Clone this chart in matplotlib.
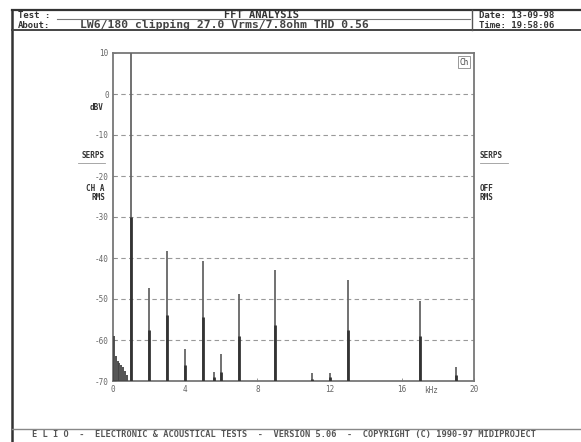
import matplotlib
matplotlib.use("Agg")
from matplotlib import pyplot as plt
from matplotlib.lines import Line2D
import numpy as np

# harmonic lines: frequency (kHz), peak trace (thin) and lower trace (dark), dB
harm_khz = [1, 2, 3, 4, 5, 5.6, 6, 7, 9, 11, 12, 13, 17, 19]
harm_peak = [15, -47.3, -38.3, -62.2, -40.7, -67.8, -63.4, -48.8, -42.9, -68.0, -68.0, -45.4, -50.5, -66.6]
harm_low = [-30, -57.6, -53.9, -66.0, -54.4, -69.0, -67.8, -59.0, -56.3, -69.5, -69.0, -57.6, -59.0, -68.5]

# low frequency noise near DC
noise_khz = [0.05, 0.15, 0.25, 0.35, 0.45, 0.55, 0.65, 0.75]
noise_db = [-59.0, -64.0, -65.0, -65.5, -66.0, -66.5, -67.5, -68.5]

yticks = [10, 0, -10, -20, -30, -40, -50, -60, -70]
xticks = [0, 4, 8, 12, 16, 20]

W, H = 581, 442
MONO = "DejaVu Sans Mono"


def fx(x):
    return x / W


def fy(y):
    return 1 - y / H


fig = plt.figure(figsize=(W / 100, H / 100), dpi=100)
fig.patch.set_facecolor("white")


def fline(x0, y0, x1, y1, lw=1.0, c="#555555"):
    fig.add_artist(Line2D([fx(x0), fx(x1)], [fy(y0), fy(y1)], lw=lw, color=c,
                          transform=fig.transFigure))


def ftext(x, y, s, size=7.5, ha="left", c="#333333", weight="bold"):
    fig.text(fx(x), fy(y), s, fontsize=size, ha=ha, va="center", color=c,
             family=MONO, weight=weight)


# outer frame and header boxes
fline(12, 10, 581, 10, lw=1.6, c="#333333")
fline(12, 10, 12, 442, lw=1.8, c="#333333")
fline(12, 30, 581, 30, lw=1.4, c="#444444")
fline(57, 19, 470, 19, lw=0.8, c="#777777")
fline(472, 10, 472, 30, lw=1.0, c="#555555")
fline(12, 429, 581, 429, lw=1.0, c="#888888")

ftext(18, 15, "Test :", size=6.5)
ftext(18, 25, "About:", size=6.5)
ftext(262, 14.5, "FFT ANALYSIS", size=7.5, ha="center")
ftext(80, 25, "LW6/180 clipping 27.0 Vrms/7.8ohm THD 0.56", size=8.2, c="#444444")
ftext(479, 15, "Date: 13-09-98", size=6.5)
ftext(479, 25, "Time: 19:58:06", size=6.5)
ftext(32, 435, "E L I O  -  ELECTRONIC & ACOUSTICAL TESTS  -  VERSION 5.06  -  "
      "COPYRIGHT (C) 1990-97 MIDIPROJECT", size=6.2, c="#555555")

# side labels
ftext(104, 108, "dBV", size=5.5, ha="right")
ftext(105, 155, "SERPS", size=5.5, ha="right")
fline(78, 163, 105, 163, lw=0.6, c="#999999")
ftext(105, 188, "CH A", size=5.5, ha="right")
ftext(105, 198, "RMS", size=5.5, ha="right")
ftext(480, 155, "SERPS", size=5.5)
fline(480, 163, 508, 163, lw=0.6, c="#999999")
ftext(480, 188, "OFF", size=5.5)
ftext(480, 198, "RMS", size=5.5)

# plot area
ax = fig.add_axes([fx(113), fy(381), fx(474) - fx(113), fy(53) - fy(381)])
ax.set_xlim(0, 20)
ax.set_ylim(-70, 10)
for sp in ax.spines.values():
    sp.set_color("#777777")
    sp.set_linewidth(1.3)

for v in yticks[1:-1]:
    ax.axhline(v, color="#999999", lw=0.8, ls=(0, (4, 3)), zorder=1)

ax.vlines(noise_khz, -70, noise_db, color="#444444", lw=1.3, zorder=3)
ax.vlines(harm_khz, -70, harm_peak, color="#666666", lw=1.3, zorder=3)
ax.vlines(harm_khz, -70, harm_low, color="#333333", lw=2.0, zorder=4)

ax.set_yticks(yticks)
ax.set_yticklabels([str(v) for v in yticks], family=MONO, fontsize=5.5, color="#666666")
ax.set_xticks(xticks)
ax.set_xticklabels([str(v) for v in xticks], family=MONO, fontsize=5.5, color="#666666")
ax.tick_params(axis="both", length=2, width=0.6, color="#888888", direction="in", pad=3)
ax.text(17.6, -71.3, "kHz", fontsize=5.5, family=MONO, color="#666666",
        ha="center", va="top")

ax.text(0.985, 0.985, "Ch", transform=ax.transAxes, fontsize=5.5, family=MONO,
        color="#444444", ha="right", va="top",
        bbox=dict(boxstyle="square,pad=0.2", fc="white", ec="#888888", lw=0.6))

fig.savefig("out.png", dpi=100)
